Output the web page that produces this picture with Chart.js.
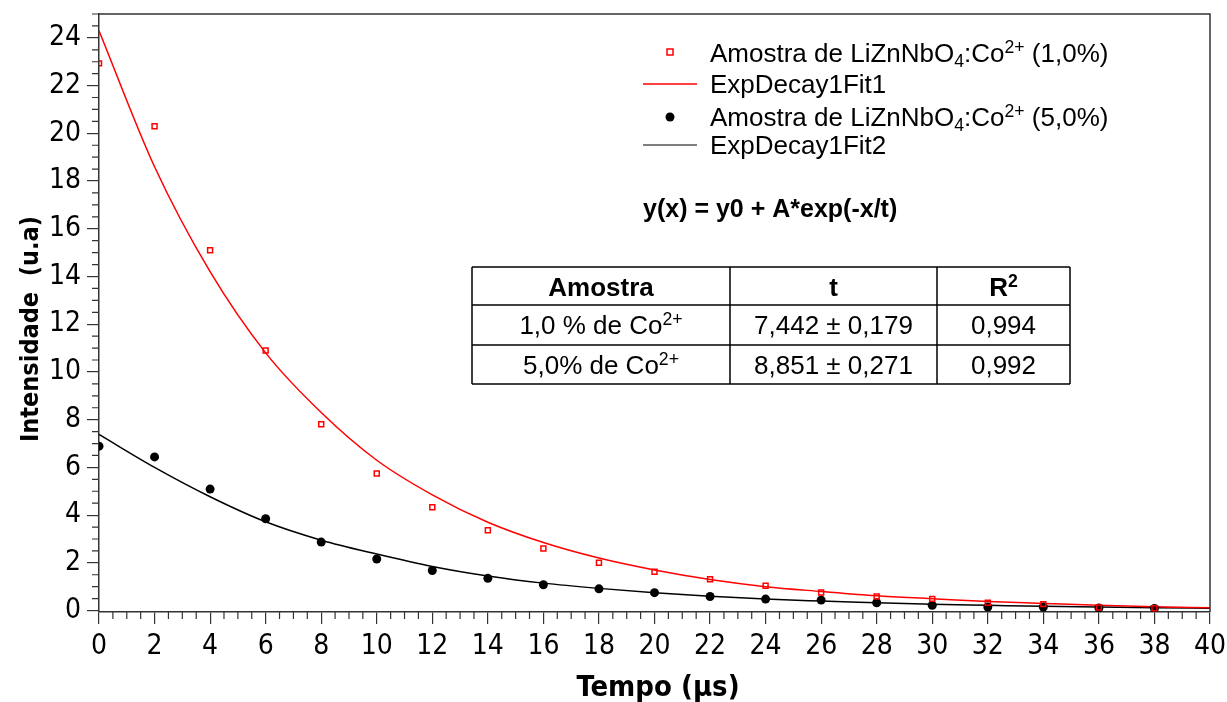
<!DOCTYPE html>
<html>
<head>
<meta charset="utf-8">
<script src="https://cdn.jsdelivr.net/npm/chart.js@4.4.1/dist/chart.umd.min.js"></script>
<style>
  html, body { margin: 0; padding: 0; background: #fff; }
  #wrap { width: 1227px; height: 702px; }
</style>
</head>
<body>
<div id="wrap"><canvas id="chart" width="1227" height="702"></canvas></div>
<script>
// measured points (tempo in µs)
const tempo = [0, 2, 4, 6, 8, 10, 12, 14, 16, 18, 20, 22, 24, 26, 28, 30, 32, 34, 36, 38];
const amostra1 = [22.93, 20.3, 15.1, 10.9, 7.81, 5.74, 4.33, 3.37, 2.6, 2.0, 1.63, 1.31, 1.04, 0.76, 0.59, 0.49, 0.33, 0.27, 0.13, 0.1];
const amostra5 = [6.89, 6.44, 5.09, 3.85, 2.87, 2.16, 1.68, 1.35, 1.08, 0.91, 0.75, 0.59, 0.48, 0.44, 0.33, 0.22, 0.15, 0.15, 0.11, 0.09];

// fitted curves
const fitTempo = [0, 2, 4, 6, 8, 10, 12, 14, 16, 18, 20, 22, 24, 26, 28, 30, 32, 34, 36, 38, 40];
const fit1 = [24.3, 18.6, 14.2, 10.8, 8.3, 6.3, 4.85, 3.7, 2.85, 2.2, 1.7, 1.3, 1.0, 0.8, 0.62, 0.5, 0.38, 0.3, 0.22, 0.16, 0.12];
const fit2 = [7.38, 6.0, 4.77, 3.72, 2.95, 2.37, 1.85, 1.45, 1.15, 0.93, 0.75, 0.6, 0.48, 0.4, 0.33, 0.26, 0.22, 0.18, 0.15, 0.12, 0.1];

const tabelaLinhas = [
  ["1,0 % de Co", "7,442 \u00b1 0,179", "0,994"],
  ["5,0% de Co", "8,851 \u00b1 0,271", "0,992"]
];

function pts(xs, ys) {
  return xs.map((x, i) => ({ x: x, y: ys[i] }));
}

// draws text pieces with sub/superscripts, returns end x
function drawRich(ctx, parts, x, y, size, weight, align) {
  const family = "'Liberation Sans', Arial, sans-serif";
  let total = 0;
  parts.forEach(p => {
    const s = p.sup || p.sub ? size * 0.68 : size;
    ctx.font = weight + " " + s + "px " + family;
    p.w = ctx.measureText(p.t).width;
    total += p.w;
  });
  let cx = x;
  if (align === "center") cx = x - total / 2;
  ctx.textAlign = "left";
  ctx.textBaseline = "alphabetic";
  parts.forEach(p => {
    const s = p.sup || p.sub ? size * 0.68 : size;
    ctx.font = weight + " " + s + "px " + family;
    let dy = 0;
    if (p.sup) dy = -size * 0.36;
    if (p.sub) dy = size * 0.2;
    ctx.fillText(p.t, cx, y + dy);
    cx += p.w;
  });
  return cx;
}

const extras = {
  id: "extras",
  afterDraw(chart) {
    const ctx = chart.ctx;
    const a = chart.chartArea;
    const xs = chart.scales.x;
    const ys = chart.scales.y;
    ctx.save();

    // frame top / right
    ctx.strokeStyle = "#333";
    ctx.lineWidth = 1.5;
    ctx.beginPath();
    ctx.moveTo(a.left, a.top);
    ctx.lineTo(a.right, a.top);
    ctx.lineTo(a.right, a.bottom);
    ctx.stroke();

    // minor ticks
    ctx.lineWidth = 1.2;
    ctx.beginPath();
    for (let v = 0.5; v < 40; v += 0.5) {
      if (v % 2 === 0) continue;
      const px = xs.getPixelForValue(v);
      ctx.moveTo(px, a.bottom);
      ctx.lineTo(px, a.bottom + 7);
    }
    for (let v = 0.5; v <= 25; v += 0.5) {
      if (v % 2 === 0) continue;
      const py = ys.getPixelForValue(v);
      ctx.moveTo(a.left, py);
      ctx.lineTo(a.left - 7, py);
    }
    ctx.stroke();

    // axis titles
    ctx.fillStyle = "#000";
    ctx.textAlign = "center";
    ctx.textBaseline = "middle";
    ctx.font = "bold 29px 'DejaVu Sans Condensed', sans-serif";
    ctx.fillText("Tempo (\u00b5s)", 658, 688);
    ctx.font = "bold 25px 'DejaVu Sans Condensed', sans-serif";
    ctx.save();
    ctx.translate(31, 329);
    ctx.rotate(-Math.PI / 2);
    ctx.fillText("Intensidade  (u.a)", 0, 0);
    ctx.restore();

    // legend
    ctx.strokeStyle = "#ff0000";
    ctx.lineWidth = 1.5;
    ctx.strokeRect(667, 49, 6, 6);
    ctx.beginPath();
    ctx.moveTo(643, 84);
    ctx.lineTo(697, 84);
    ctx.stroke();
    ctx.fillStyle = "#000";
    ctx.beginPath();
    ctx.arc(670, 117, 4.5, 0, Math.PI * 2);
    ctx.fill();
    ctx.strokeStyle = "#000";
    ctx.lineWidth = 1.2;
    ctx.beginPath();
    ctx.moveTo(643, 145);
    ctx.lineTo(697, 145);
    ctx.stroke();

    const lx = 710;
    drawRich(ctx, [{ t: "Amostra de LiZnNbO" }, { t: "4", sub: true }, { t: ":Co" }, { t: "2+", sup: true }, { t: " (1,0%)" }], lx, 62, 26, "normal");
    drawRich(ctx, [{ t: "ExpDecay1Fit1" }], lx, 93, 26, "normal");
    drawRich(ctx, [{ t: "Amostra de LiZnNbO" }, { t: "4", sub: true }, { t: ":Co" }, { t: "2+", sup: true }, { t: " (5,0%)" }], lx, 126, 26, "normal");
    drawRich(ctx, [{ t: "ExpDecay1Fit2" }], lx, 154, 26, "normal");

    // formula
    drawRich(ctx, [{ t: "y(x) = y0 + A*exp(-x/t)" }], 643, 217, 25, "bold");

    // table
    const tx = [472, 730, 937, 1070];
    const ty = [267, 305, 345, 384];
    ctx.strokeStyle = "#000";
    ctx.lineWidth = 1.5;
    ctx.beginPath();
    tx.forEach(x => { ctx.moveTo(x, ty[0]); ctx.lineTo(x, ty[3]); });
    ty.forEach(y => { ctx.moveTo(tx[0], y); ctx.lineTo(tx[3], y); });
    ctx.stroke();
    const mid = [(tx[0] + tx[1]) / 2, (tx[1] + tx[2]) / 2, (tx[2] + tx[3]) / 2];
    drawRich(ctx, [{ t: "Amostra" }], mid[0], 296, 26, "bold", "center");
    drawRich(ctx, [{ t: "t" }], mid[1], 296, 26, "bold", "center");
    drawRich(ctx, [{ t: "R" }, { t: "2", sup: true }], mid[2], 296, 26, "bold", "center");
    tabelaLinhas.forEach((row, i) => {
      const by = ty[i + 1] + 29;
      drawRich(ctx, [{ t: row[0] }, { t: "2+", sup: true }], mid[0], by, 26, "normal", "center");
      drawRich(ctx, [{ t: row[1] }], mid[1], by, 26, "normal", "center");
      drawRich(ctx, [{ t: row[2] }], mid[2], by, 26, "normal", "center");
    });

    ctx.restore();
  }
};

const tickFont = { family: "'DejaVu Sans Condensed', sans-serif", size: 28 };

new Chart(document.getElementById("chart"), {
  type: "scatter",
  data: {
    datasets: [
      {
        label: "ExpDecay1Fit1",
        type: "line",
        data: pts(fitTempo, fit1),
        borderColor: "#ff0000",
        borderWidth: 1.5,
        pointRadius: 0,
        cubicInterpolationMode: "monotone",
        fill: false,
        order: 3
      },
      {
        label: "ExpDecay1Fit2",
        type: "line",
        data: pts(fitTempo, fit2),
        borderColor: "#000",
        borderWidth: 1.5,
        pointRadius: 0,
        cubicInterpolationMode: "monotone",
        fill: false,
        order: 4
      },
      {
        label: "Amostra 5,0%",
        data: pts(tempo, amostra5),
        pointStyle: "circle",
        pointRadius: 4.5,
        backgroundColor: "#000",
        borderColor: "#000",
        borderWidth: 0,
        order: 2
      },
      {
        label: "Amostra 1,0%",
        data: pts(tempo, amostra1),
        pointStyle: "rect",
        pointRadius: 3.5,
        backgroundColor: "rgba(255,255,255,0)",
        borderColor: "#ff0000",
        borderWidth: 1.5,
        order: 1
      }
    ]
  },
  options: {
    responsive: false,
    animation: false,
    layout: { padding: { top: 14, right: 17, left: 0, bottom: 0 } },
    plugins: {
      legend: { display: false },
      tooltip: { enabled: false }
    },
    scales: {
      x: {
        type: "linear",
        min: 0,
        max: 40,
        afterFit: s => { s.height = 90; s.paddingLeft = 0; s.paddingRight = 0; },
        border: { display: true, color: "#333", width: 1.5 },
        grid: { display: true, drawOnChartArea: false, drawTicks: true, tickLength: 12, color: "#333", lineWidth: 1.2 },
        ticks: { stepSize: 2, color: "#000", font: tickFont, padding: 6, maxRotation: 0, autoSkip: false }
      },
      y: {
        type: "linear",
        min: -0.06,
        max: 25,
        afterFit: s => { s.width = 99; s.paddingTop = 0; s.paddingBottom = 0; },
        border: { display: true, color: "#333", width: 1.5 },
        grid: { display: true, drawOnChartArea: false, drawTicks: true, tickLength: 12, color: "#333", lineWidth: 1.2 },
        ticks: {
          stepSize: 2,
          includeBounds: false,
          color: "#000",
          font: tickFont,
          padding: 6,
          callback: v => (Math.abs(v % 2) < 1e-9 ? v : "")
        }
      }
    }
  },
  plugins: [extras]
});
</script>
</body>
</html>
